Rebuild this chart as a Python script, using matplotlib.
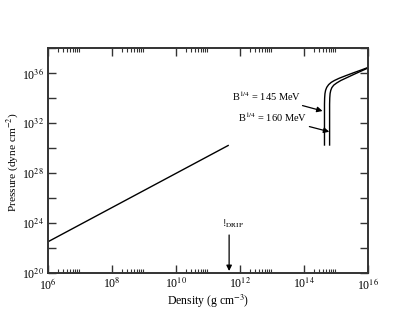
import numpy as np
import matplotlib
matplotlib.use("Agg")
import matplotlib.pyplot as plt
from matplotlib.ticker import FixedLocator, FuncFormatter

plt.rcParams['font.family'] = ['Liberation Serif', 'DejaVu Serif']
plt.rcParams['mathtext.fontset'] = 'stix'

# Data (log10 values)
crust_logrho = [6.0, 8.8, 11.63]
crust_logP = [22.5, 26.33, 30.2]

q145_logrho = [14.64, 14.64, 14.645, 14.655, 14.675, 14.71, 14.77, 14.85, 14.95, 15.1, 15.3, 15.55, 15.8, 16.0]
q145_logP = [30.24, 33.5, 34.0, 34.35, 34.62, 34.85, 35.07, 35.25, 35.4, 35.58, 35.78, 36.02, 36.25, 36.44]
q160_logrho = [14.80, 14.80, 14.805, 14.815, 14.835, 14.87, 14.93, 15.02, 15.15, 15.3, 15.55, 15.8, 16.0]
q160_logP = [30.24, 33.5, 34.0, 34.35, 34.6, 34.83, 35.03, 35.2, 35.4, 35.58, 35.88, 36.17, 36.4]

labels = ["B$^{1/4}$ = 145 MeV", "B$^{1/4}$ = 160 MeV"]
drip_logrho = 11.66

fig = plt.figure(figsize=(4.15, 3.21), dpi=100)
ax = fig.add_axes([48/415, 1-273/321, 320/415, 225/321])

lw = 1.0
ax.plot(10**np.array(crust_logrho), 10**np.array(crust_logP), color='black', lw=lw)
ax.plot(10**np.array(q145_logrho), 10**np.array(q145_logP), color='black', lw=lw)
ax.plot(10**np.array(q160_logrho), 10**np.array(q160_logP), color='black', lw=lw)

ax.set_xscale('log')
ax.set_yscale('log')
ax.set_xlim(1e6, 1e16)
ax.set_ylim(1e20, 1e38)

# ticks
xmaj = [10.0**k for k in range(6, 17, 2)]
xmin = [m * 10.0**k for k in range(6, 16, 2) for m in range(2, 10)]
ax.xaxis.set_major_locator(FixedLocator(xmaj))
ax.xaxis.set_minor_locator(FixedLocator(xmin))
ymaj = [10.0**k for k in range(20, 39, 2)]
ax.yaxis.set_major_locator(FixedLocator(ymaj))
ax.yaxis.set_minor_locator(FixedLocator([]))

def xfmt(v, pos):
    k = int(round(np.log10(v)))
    return r"10$^{%d}$" % k

def yfmt(v, pos):
    k = int(round(np.log10(v)))
    if k % 4 == 0 and k <= 36:
        return r"10$^{%d}$" % k
    return ""

ax.xaxis.set_major_formatter(FuncFormatter(xfmt))
ax.yaxis.set_major_formatter(FuncFormatter(yfmt))

ax.tick_params(which='major', direction='in', length=6, width=1.0, top=True, right=True,
               labelsize=8.5, pad=3, color='#333333')
ax.tick_params(which='minor', direction='in', length=3, width=0.8, top=True, right=True,
               color='#333333')
for s in ax.spines.values():
    s.set_linewidth(1.4)
    s.set_color('#333333')

ax.set_xlabel(r"Density (g cm$^{-3}$)", fontsize=8.5, va='center')
ax.set_ylabel(r"Pressure (dyne cm$^{-2}$)", fontsize=8.2, va='center')
ax.xaxis.set_label_coords(0.5, -0.125)
ax.yaxis.set_label_coords(-0.11, 0.49)

# annotations
arrow_kw = dict(arrowstyle='-|>', color='black', lw=0.9, mutation_scale=8,
                shrinkA=0, shrinkB=0)
ax.annotate(labels[0], xy=(10**14.58, 10**32.96), xytext=(10**13.93, 10**34.16),
            ha='right', va='center', fontsize=7.5, arrowprops=arrow_kw)
ax.annotate(labels[1], xy=(10**14.79, 10**31.30), xytext=(10**14.10, 10**32.48),
            ha='right', va='center', fontsize=7.5, arrowprops=arrow_kw)

ax.annotate("", xy=(10**drip_logrho, 10**20.16), xytext=(10**drip_logrho, 10**23.04),
            arrowprops=arrow_kw)
ax.text(10**11.45, 10**23.4, r"!$_{\mathrm{DRIP}}$", fontsize=7.5, ha='left', va='bottom')

fig.savefig("out.png", dpi=100)
